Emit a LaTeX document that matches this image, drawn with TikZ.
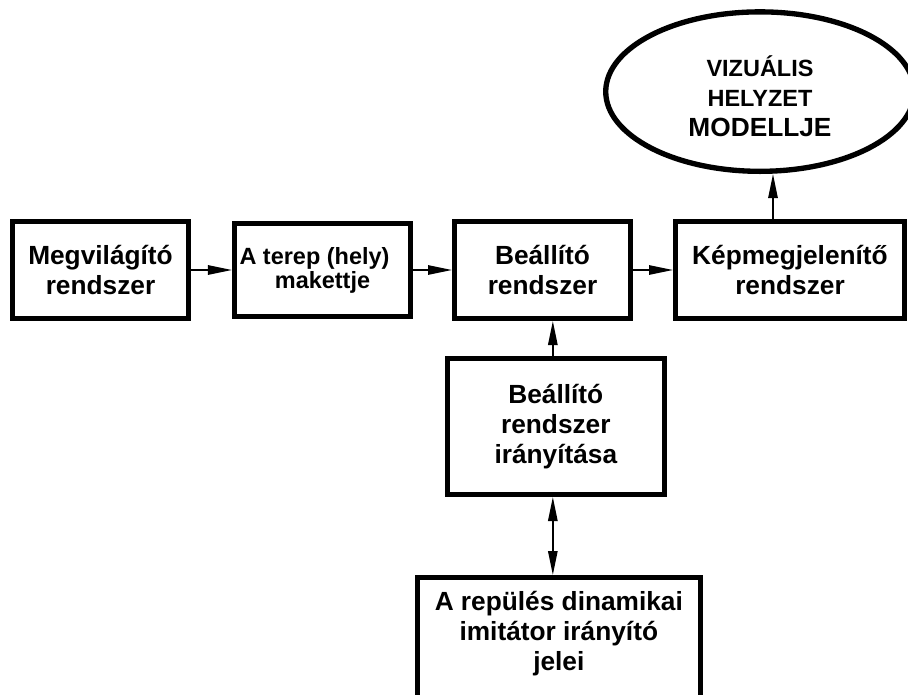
\documentclass[tikz,border=0pt]{standalone}
\usepackage{fontspec}
\setmainfont{Liberation Sans}
\usetikzlibrary{arrows.meta,positioning,shapes.geometric}

\begin{document}
\begin{tikzpicture}[node distance=30pt,>={Triangle[length=18pt,width=7pt]},
 box/.style={draw,line width=3.75pt,minimum width=132pt,minimum height=72.75pt,align=center,font=\fontsize{19.7}{22.5}\selectfont\bfseries},
 ellip/.style={draw,ellipse,line width=4pt,inner sep=0pt,minimum width=231.4pt,minimum height=119.6pt,align=center,font=\fontsize{17.6}{22.5}\selectfont\bfseries},
 arr/.style={->,line width=1.3pt}]
\useasboundingbox (-75.375pt,202.5pt) rectangle (605.625pt,-318pt);
\node[box] (megv) at (0,0) {Megvilágító\\rendszer};
\node[box,right=30.75pt of megv,minimum height=69.9pt,font=\fontsize{17.6}{18}\selectfont\bfseries] (terep) {A terep (hely)\hspace*{12pt}\\makettje};
\node[box,right=29.25pt of terep] (beall) {Beállító\\rendszer};
\node[box,right=of beall,minimum width=171.75pt] (kep) {Képmegjelenítő\\rendszer};
\node[ellip,above=33.75pt of kep,xshift=-22.5pt] (viz) {\rule{0pt}{22.5pt}VIZUÁLIS\\HELYZET\\{\fontsize{19.7}{22.5}\selectfont MODELLJE}};
\node[box,below=26.25pt of beall,xshift=10pt,minimum width=162.75pt,minimum height=102pt] (ctrl) {Beállító\\rendszer\\irányítása};
\node[box,below=58.5pt of ctrl,xshift=2.25pt,minimum width=212.25pt,inner ysep=10pt] (jel) {\parbox[c][84pt][t]{205pt}{\centering A repülés dinamikai\\imitátor irányító\\jelei}};
\draw[arr] (megv.east) -- (terep.west);
\draw[arr] (terep.east) -- (beall.west);
\draw[arr] (beall.east) -- (kep.west);
\draw[arr] ([xshift=-12.75pt]kep.north) -- ([xshift=-12.75pt]kep.north |- viz.south);
\draw[arr] ([xshift=-2.25pt]ctrl.north) -- ([xshift=-2.25pt]ctrl.north |- beall.south);
\draw[<->,line width=1.3pt] ([xshift=-2.25pt]ctrl.south) -- ([xshift=-2.25pt]ctrl.south |- jel.north);
\end{tikzpicture}
\end{document}
